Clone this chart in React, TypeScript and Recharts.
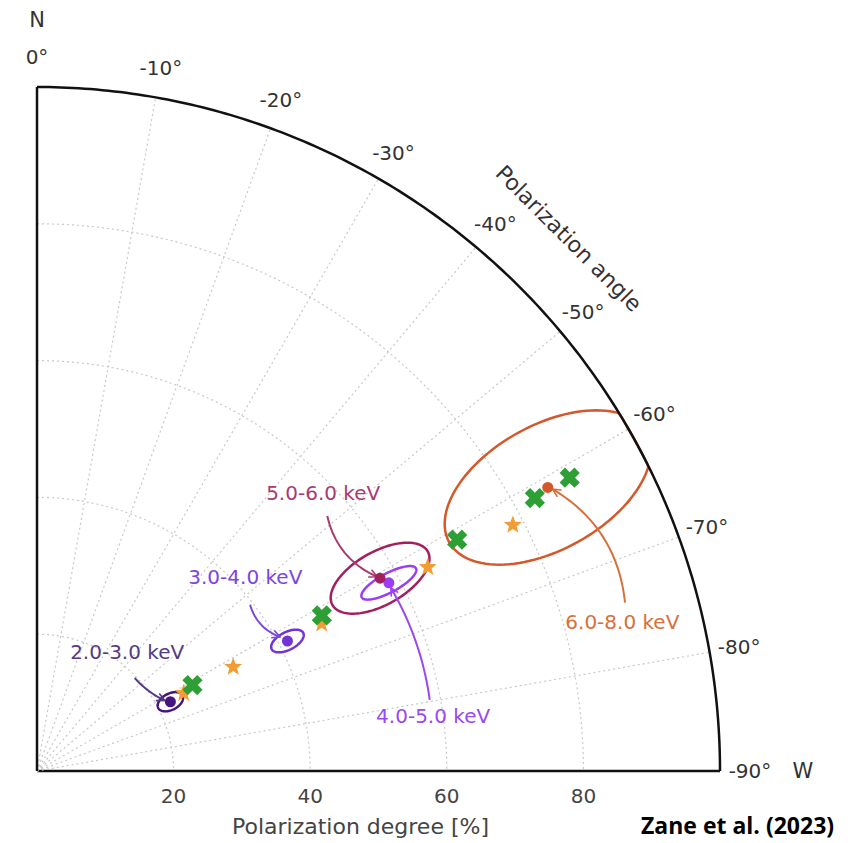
import { Label, Scatter, ScatterChart, XAxis, YAxis } from 'recharts';

// energy bins
const bands = ['2.0-3.0 keV', '3.0-4.0 keV', '4.0-5.0 keV', '5.0-6.0 keV', '6.0-8.0 keV'];
// measured polarization degree [%] and angle [deg]
const measuredPD = [22.0, 41.3, 58.4, 57.6, 85.5];
const measuredPA = [-62.6, -62.6, -61.9, -60.7, -61.0];
// contour half sizes (along PD and across it), in % units
const contourRadial = [2.0, 2.6, 4.5, 8.0, 16.5];
const contourTangential = [1.2, 1.3, 1.4, 3.9, 9.1];
// model A (stars)
const starPD = [24.3, 32.5, 46.9, 64.5, 78.4];
const starPA = [-62.1, -62.1, -62.7, -62.5, -62.7];
// model B (crosses)
const crossPD = [26.0, 47.5, 70.2, 83.1, 89.0];
const crossPA = [-61.1, -61.4, -61.2, -61.3, -61.2];
// axes
const degreeTicks = [20, 40, 60, 80];
const gridDegrees = [20, 40, 60, 80];
const angleTicks = [0, -10, -20, -30, -40, -50, -60, -70, -80, -90];

const bandColors = ['#46157e', '#7433d8', '#9b3ef2', '#a3205f', '#d4582a'];
const labelColors = ['#553a85', '#7d45e0', '#9a48f0', '#a83a70', '#d8703c'];

// annotation placement, cartesian % units
const labelPos = [
  { x: 13.2, y: 17.4 },
  { x: 30.5, y: 28.4 },
  { x: 58.0, y: 8.0 },
  { x: 41.9, y: 40.6 },
  { x: 85.7, y: 21.8 },
];
const arrowFrom = [
  { x: 14.3, y: 13.6 },
  { x: 31.2, y: 24.3 },
  { x: 57.5, y: 10.4 },
  { x: 42.5, y: 37.3 },
  { x: 86.1, y: 24.6 },
];
const arrowTo = [
  { x: 18.7, y: 10.3 },
  { x: 35.6, y: 19.6 },
  { x: 51.8, y: 26.8 },
  { x: 49.8, y: 28.4 },
  { x: 75.5, y: 41.2 },
];
const arrowBend = [-0.1, -0.25, -0.1, -0.25, -0.25];

const FONT = '"DejaVu Sans", sans-serif';

const toXY = (pd: number, pa: number) => {
  const t = (-pa * Math.PI) / 180;
  return { x: pd * Math.sin(t), y: pd * Math.cos(t) };
};

const arc = (pd: number) => Array.from({ length: 181 }, (_, i) => toXY(pd, -i / 2));

const ellipse = (i: number) => {
  const c = toXY(measuredPD[i], measuredPA[i]);
  const ux = c.x / measuredPD[i];
  const uy = c.y / measuredPD[i];
  const pts = [];
  for (let k = 0; k <= 120; k++) {
    const s = (k / 120) * Math.PI * 2;
    let x = c.x + contourRadial[i] * Math.cos(s) * ux - contourTangential[i] * Math.sin(s) * uy;
    let y = c.y + contourRadial[i] * Math.cos(s) * uy + contourTangential[i] * Math.sin(s) * ux;
    const r = Math.hypot(x, y);
    if (r > 100) {
      x = (x / r) * 100;
      y = (y / r) * 100;
    }
    pts.push({ x, y });
  }
  return pts;
};

const arrowPath = (i: number) => {
  const a = arrowFrom[i];
  const b = arrowTo[i];
  const dx = b.x - a.x;
  const dy = b.y - a.y;
  const cx = (a.x + b.x) / 2 - dy * arrowBend[i];
  const cy = (a.y + b.y) / 2 + dx * arrowBend[i];
  return Array.from({ length: 21 }, (_, k) => {
    const t = k / 20;
    return {
      x: (1 - t) * (1 - t) * a.x + 2 * (1 - t) * t * cx + t * t * b.x,
      y: (1 - t) * (1 - t) * a.y + 2 * (1 - t) * t * cy + t * t * b.y,
    };
  });
};

const nothing = () => <g />;

const Dot = (color: string) => (p: any) => <circle cx={p.cx} cy={p.cy} r={5.5} fill={color} />;

const Star = (p: any) => {
  const pts = [];
  for (let i = 0; i < 10; i++) {
    const r = i % 2 ? 4 : 9.5;
    const a = ((-90 + i * 36) * Math.PI) / 180;
    pts.push(`${p.cx + r * Math.cos(a)},${p.cy + r * Math.sin(a)}`);
  }
  return <polygon points={pts.join(' ')} fill="#f39c34" />;
};

const Cross = (p: any) => {
  const s = 10.5;
  const w = 3.8;
  const base = [
    [-w, -s], [w, -s], [w, -w], [s, -w], [s, w], [w, w],
    [w, s], [-w, s], [-w, w], [-s, w], [-s, -w], [-w, -w],
  ];
  const c = Math.SQRT1_2;
  const pts = base.map(([x, y]) => `${p.cx + (x - y) * c},${p.cy + (x + y) * c}`);
  return <polygon points={pts.join(' ')} fill="#2e9f35" />;
};

const AngleText = (p: any) => {
  const t = (-p.payload.pa * Math.PI) / 180;
  const off = p.payload.off;
  const x = p.cx + Math.sin(t) * off;
  const y = p.cy - Math.cos(t) * off;
  return (
    <text
      x={x}
      y={y}
      textAnchor="middle"
      dominantBaseline="central"
      fontSize={p.payload.size}
      fill="#333"
      fontFamily={FONT}
      transform={p.payload.rot ? `rotate(${p.payload.rot} ${x} ${y})` : undefined}
    >
      {p.payload.text}
    </text>
  );
};

const BandText = (p: any) => (
  <text
    x={p.cx}
    y={p.cy}
    textAnchor="middle"
    dominantBaseline="central"
    fontSize={20}
    fill={labelColors[p.payload.band]}
    fontFamily={FONT}
  >
    {bands[p.payload.band]}
  </text>
);

export default function App() {
  const angleLabels = angleTicks.map((pa) => ({ ...toXY(100, pa), pa, off: 30, size: 20, text: `${pa}°` }));
  const dirLabels = [
    { ...toXY(100, 0), pa: 0, off: 67, size: 21, text: 'N' },
    { ...toXY(100, -90), pa: -90, off: 83, size: 21, text: 'W' },
    { ...toXY(100, -45), pa: -45, off: 69, size: 22, text: 'Polarization angle', rot: 45 },
  ];
  const bandLabels = labelPos.map((p, i) => ({ ...p, band: i }));

  return (
    <div style={{ position: 'relative', width: 843, height: 835 }}>
      <svg width={0} height={0} style={{ position: 'absolute' }}>
        <defs>
          {bandColors.map((c, i) => (
            <marker
              key={i}
              id={`arrow-${i}`}
              viewBox="0 0 10 10"
              refX={9}
              refY={5}
              markerWidth={5}
              markerHeight={5}
              markerUnits="strokeWidth"
              orient="auto"
            >
              <path d="M1,1 L9,5 L1,9" fill="none" stroke={labelColors[i]} strokeWidth={1.6} />
            </marker>
          ))}
        </defs>
      </svg>
      <ScatterChart width={843} height={835} margin={{ top: 79, right: 131, bottom: 0, left: 29 }}>
        <XAxis
          type="number"
          dataKey="x"
          domain={[0, 100]}
          ticks={degreeTicks}
          height={72}
          tickLine={false}
          tickMargin={12}
          axisLine={{ stroke: '#111', strokeWidth: 2.5 }}
          tick={{ fontSize: 20, fill: '#444', fontFamily: FONT }}
        >
          <Label
            value="Polarization degree [%]"
            position="insideBottom"
            offset={9}
            dx={-18}
            fontSize={22}
            fill="#444"
            fontFamily={FONT}
          />
        </XAxis>
        <YAxis type="number" dataKey="y" domain={[0, 100]} hide />

        {gridDegrees.map((pd) => (
          <Scatter
            key={`arc-${pd}`}
            data={arc(pd)}
            line={{ stroke: '#c8c8c8', strokeWidth: 1.2, strokeDasharray: '2 3' }}
            shape={nothing}
            isAnimationActive={false}
          />
        ))}
        {angleTicks.slice(1, -1).map((pa) => (
          <Scatter
            key={`spoke-${pa}`}
            data={[toXY(0, pa), toXY(100, pa)]}
            line={{ stroke: '#c8c8c8', strokeWidth: 1.2, strokeDasharray: '2 3' }}
            shape={nothing}
            isAnimationActive={false}
          />
        ))}

        {bands.map((b, i) => (
          <Scatter
            key={`ell-${b}`}
            data={ellipse(i)}
            line={{ stroke: bandColors[i], strokeWidth: 2.5 }}
            shape={nothing}
            isAnimationActive={false}
          />
        ))}
        {bands.map((b, i) => (
          <Scatter
            key={`arr-${b}`}
            data={arrowPath(i)}
            line={{ stroke: labelColors[i], strokeWidth: 2, markerEnd: `url(#arrow-${i})` }}
            shape={nothing}
            isAnimationActive={false}
          />
        ))}

        <Scatter data={starPD.map((pd, i) => toXY(pd, starPA[i]))} shape={Star} isAnimationActive={false} />
        <Scatter data={crossPD.map((pd, i) => toXY(pd, crossPA[i]))} shape={Cross} isAnimationActive={false} />
        {bands.map((b, i) => (
          <Scatter
            key={`pt-${b}`}
            data={[toXY(measuredPD[i], measuredPA[i])]}
            shape={Dot(bandColors[i])}
            isAnimationActive={false}
          />
        ))}

        <Scatter
          data={arc(100)}
          line={{ stroke: '#111', strokeWidth: 2.5 }}
          shape={nothing}
          isAnimationActive={false}
        />
        <Scatter
          data={[toXY(0, 0), toXY(100, 0)]}
          line={{ stroke: '#111', strokeWidth: 2.5 }}
          shape={nothing}
          isAnimationActive={false}
        />

        <Scatter data={angleLabels} shape={AngleText} isAnimationActive={false} />
        <Scatter data={dirLabels} shape={AngleText} isAnimationActive={false} />
        <Scatter data={bandLabels} shape={BandText} isAnimationActive={false} />
      </ScatterChart>
      <div
        style={{
          position: 'absolute',
          left: 633,
          top: 803,
          fontFamily: '"Open Sans", sans-serif',
          fontWeight: 700,
          fontSize: 23,
          lineHeight: '28px',
          color: '#000',
          whiteSpace: 'nowrap',
        }}
      >
        Zane et al. (2023)
      </div>
    </div>
  );
}
